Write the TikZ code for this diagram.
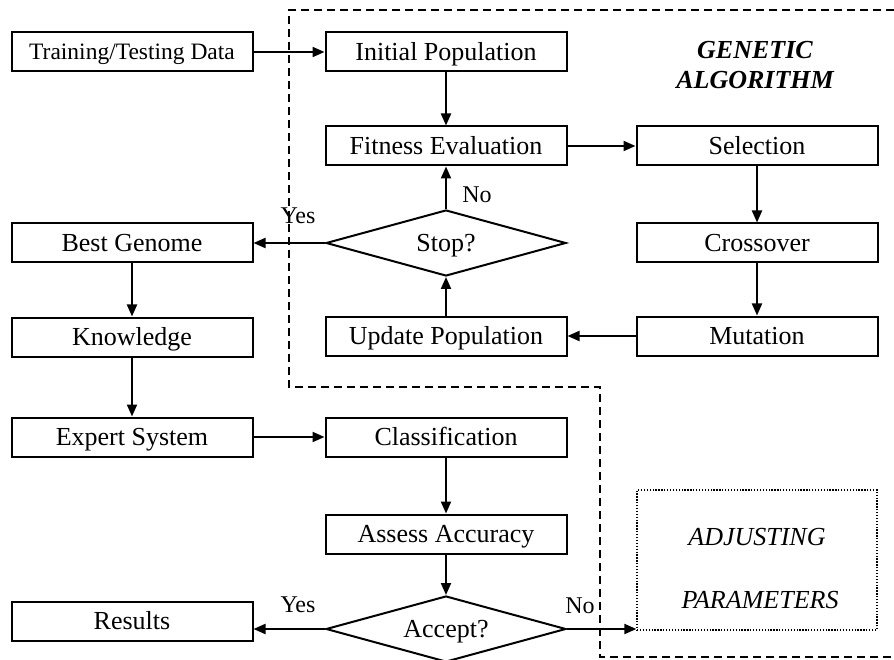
\documentclass[tikz,border=0pt]{standalone}
\usepackage{fontspec}
\setmainfont{Liberation Serif}
\usetikzlibrary{shapes.geometric,arrows.meta}
\begin{document}
\begin{tikzpicture}[x=1pt,y=-1pt,
  box/.style={draw,line width=2pt,minimum width=241pt,minimum height=39pt,inner sep=0pt,
    text height=17pt,text depth=0pt,font=\fontsize{26}{30}\selectfont},
  decision/.style={draw,diamond,line width=2pt,minimum width=240pt,minimum height=66pt,
    inner sep=0pt,aspect=3.6,text height=17pt,text depth=0pt,font=\fontsize{26}{30}\selectfont},
  flow/.style={line width=2pt,-{Triangle[length=12pt,width=10pt]}},
  tag/.style={font=\fontsize{24}{28}\selectfont,inner sep=0pt},
  region/.style={line width=2pt,dash pattern=on 8pt off 5pt},
  tuning/.style={draw,line width=1.3pt,dash pattern=on 1.3pt off 1.6pt,
    minimum width=240pt,minimum height=140pt,inner sep=0pt},
  heading/.style={font=\fontsize{26}{30}\selectfont\bfseries\itshape,align=center,inner sep=0pt},
  note/.style={font=\fontsize{26}{30}\selectfont\itshape,inner sep=0pt}
]
\useasboundingbox (0,0) rectangle (894,660);

% boundary of the genetic algorithm part
\draw[region] (894,10) -- (289,10) -- (289,387) -- (600,387) -- (600,657) -- (894,657);

% left column
\node[box,text height=15.5pt,font=\fontsize{23.5}{28}\selectfont] (data) at (132,52) {Training/Testing Data};
\node[box] (best) at (132,243) {Best Genome};
\node[box] (know) at (132,337) {Knowledge};
\node[box] (expert) at (132,437) {Expert System};
\node[box] (res) at (132,621) {Results};

% middle column
\node[box] (init) at (446,52) {Initial Population};
\node[box] (fit) at (446,146) {Fitness Evaluation};
\node[decision] (stop) at (446,243) {Stop?};
\node[box] (upd) at (446,336) {Update Population};
\node[box] (cls) at (446,437) {Classification};
\node[box] (assess) at (446,534) {Assess Accuracy};
\node[decision] (accept) at (446,629) {Accept?};

% right column
\node[box] (sel) at (757,146) {Selection};
\node[box] (cross) at (757,243) {Crossover};
\node[box] (mut) at (757,336) {Mutation};
\node[tuning] (adj) at (757,560) {};
\node[note] (adjA) at (757,537) {ADJUSTING};
\node[note] (adjB) at (760,600) {PARAMETERS};

\node[heading] (ga) at (755,65) {GENETIC\\ALGORITHM};

% connectors
\draw[flow] (data) -- (init);
\draw[flow] (init) -- (fit);
\draw[flow] (fit) -- (sel);
\draw[flow] (sel) -- (cross);
\draw[flow] (cross) -- (mut);
\draw[flow] (mut) -- (upd);
\draw[flow] (upd) -- (stop.south);
\draw[flow] (stop.north) -- (fit);
\draw[flow] (stop.west) -- (best);
\draw[flow] (best) -- (know);
\draw[flow] (know) -- (expert);
\draw[flow] (expert) -- (cls);
\draw[flow] (cls) -- (assess);
\draw[flow] (assess) -- (accept.north);
\draw[flow] (accept.west) -- (accept.west -| res.east);
\draw[flow] (accept.east) -- (accept.east -| adj.west);

% branch labels
\node[tag] (yesA) at (298,216) {Yes};
\node[tag] (noA) at (477,195) {No};
\node[tag] (yesB) at (298,605) {Yes};
\node[tag] (noB) at (580,606) {No};
\end{tikzpicture}
\end{document}
